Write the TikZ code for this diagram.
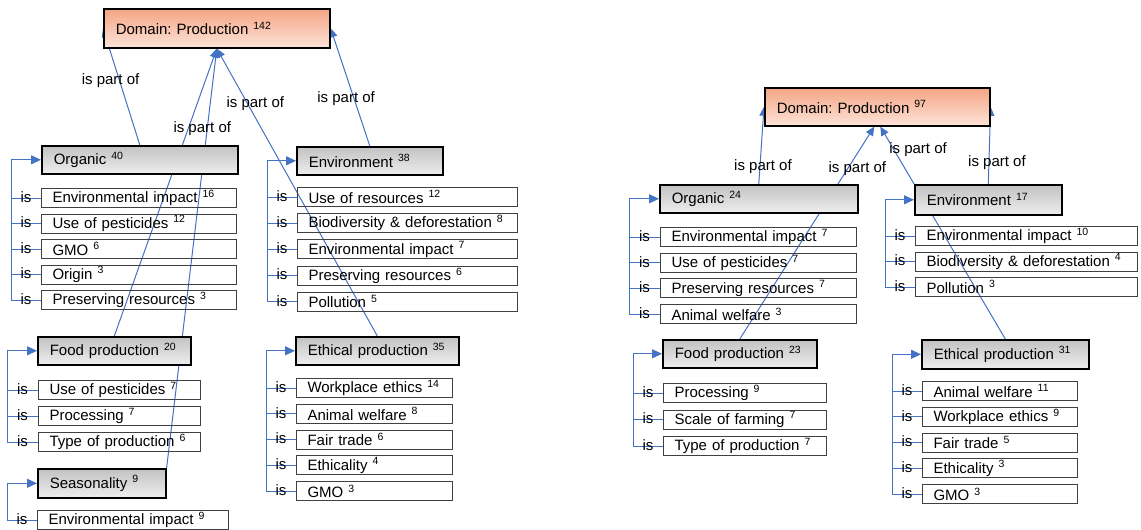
\documentclass[tikz,border=0pt]{standalone}
\usepackage{fontspec}
\setmainfont{Liberation Sans}
\usepackage{xcolor}
\usepackage{tikz}
\usetikzlibrary{arrows.meta, backgrounds}

\definecolor{connblue}{HTML}{4472C4}
\definecolor{leafgray}{HTML}{404040}
\definecolor{domtop}{HTML}{F4A584}
\definecolor{dombot}{HTML}{FDE3D8}
\definecolor{cattop}{HTML}{C2C2C2}
\definecolor{catbot}{HTML}{EEEEEE}
\newcommand{\freq}[1]{\textsuperscript{#1}}
\frenchspacing

\begin{document}
\begin{tikzpicture}[x=1pt, y=-1pt, font=\fontsize{15}{18}\selectfont,
    catbox/.style={draw, line width=1.6pt, top color=cattop, bottom color=catbot,
      anchor=north west, inner xsep=12pt, inner ysep=0pt, minimum height=28pt,
      text width=#1, align=left},
    dombox/.style={catbox=#1, top color=domtop, bottom color=dombot, minimum height=39pt},
    leaf/.style={draw=leafgray, line width=1pt, anchor=north west, inner xsep=11pt,
      inner ysep=0pt, minimum height=19pt, text width=#1, align=left},
    conn/.style={connblue, line width=1pt},
    joinarrow/.style={-{Triangle[length=10pt, width=9pt]}},
    partof/.style={conn, -{Triangle[length=9pt, width=8pt]}},
    istext/.style={inner sep=0pt, text=black, yshift=1pt},
    partlabel/.style={inner sep=0pt, text=black}]
  \useasboundingbox (0,0) rectangle (1141,530);

  % Domain (left)
  \node[dombox=202pt] (dom) at (103,8) {Domain: Production \freq{142}};

  % Organic
  \node[catbox=172pt] (org) at (41,145) {Organic \freq{40}};
  \coordinate (orgb) at (11,0);
  \foreach \t [count=\i] in {Environmental impact \freq{16},Use of pesticides \freq{12},%
      GMO \freq{6},Origin \freq{3},Preserving resources \freq{3}} {
    \node[leaf=173pt] (org\i) at (41,{188+25.5*(\i-1)}) {\t};
    \draw[conn] (orgb |- org\i.west) -- node[istext] {is} (org\i.west);
  }
  \draw[conn, joinarrow] (orgb |- org5.west) -- (orgb |- org.west) -- (org.west);

  % Food production
  \node[catbox=129pt] (food) at (37,336) {Food production \freq{20}};
  \coordinate (foodb) at (7,0);
  \foreach \t [count=\i] in {Use of pesticides \freq{7},Processing \freq{7},%
      Type of production \freq{6}} {
    \node[leaf=140pt] (food\i) at (38,{380+26*(\i-1)}) {\t};
    \draw[conn] (foodb |- food\i.west) -- node[istext] {is} (food\i.west);
  }
  \draw[conn, joinarrow] (foodb |- food3.west) -- (foodb |- food.west) -- (food.west);

  % Seasonality
  \node[catbox=104pt, minimum height=29pt] (seas) at (37,468) {Seasonality \freq{9}};
  \coordinate (seasb) at (7,0);
  \node[leaf=169pt] (seas1) at (37,510) {Environmental impact \freq{9}};
  \draw[conn] (seasb |- seas1.west) -- node[istext] {is} (seas1.west);
  \draw[conn, joinarrow] (seasb |- seas1.west) -- (seasb |- seas.west) -- (seas.west);

  % Environment
  \node[catbox=122pt] (env) at (296,146) {Environment \freq{38}};
  \coordinate (envb) at (267,0);
  \foreach \t [count=\i] in {Use of resources \freq{12},Biodiversity \& deforestation \freq{8},%
      Environmental impact \freq{7},Preserving resources \freq{6},Pollution \freq{5}} {
    \node[leaf=198pt] (env\i) at (297,{187+26.2*(\i-1)}) {\t};
    \draw[conn] (envb |- env\i.west) -- node[istext] {is} (env\i.west);
  }
  \draw[conn, joinarrow] (envb |- env5.west) -- (envb |- env.west) -- (env.west);

  % Ethical production
  \node[catbox=139pt] (eth) at (295,336) {Ethical production \freq{35}};
  \coordinate (ethb) at (266,0);
  \foreach \t [count=\i] in {Workplace ethics \freq{14},Animal welfare \freq{8},%
      Fair trade \freq{6},Ethicality \freq{4},GMO \freq{3}} {
    \node[leaf=134pt] (eth\i) at (296,{378+25.8*(\i-1)}) {\t};
    \draw[conn] (ethb |- eth\i.west) -- node[istext] {is} (eth\i.west);
  }
  \draw[conn, joinarrow] (ethb |- eth5.west) -- (ethb |- eth.west) -- (eth.west);

  % Domain (right)
  \node[dombox=201pt, minimum height=38pt] (rdom) at (764,87) {Domain: Production \freq{97}};

  % Organic (right)
  \node[catbox=174pt] (rorg) at (659,184) {Organic \freq{24}};
  \coordinate (rorgb) at (629,0);
  \foreach \t [count=\i] in {Environmental impact \freq{7},Use of pesticides \freq{7},%
      Preserving resources \freq{7},Animal welfare \freq{3}} {
    \node[leaf=174pt] (rorg\i) at (660,{227+25.7*(\i-1)}) {\t};
    \draw[conn] (rorgb |- rorg\i.west) -- node[istext] {is} (rorg\i.west);
  }
  \draw[conn, joinarrow] (rorgb |- rorg4.west) -- (rorgb |- rorg.west) -- (rorg.west);

  % Food production (right)
  \node[catbox=130pt] (rfood) at (662,339) {Food production \freq{23}};
  \coordinate (rfoodb) at (633,0);
  \foreach \t [count=\i] in {Processing \freq{9},Scale of farming \freq{7},%
      Type of production \freq{7}} {
    \node[leaf=141pt] (rfood\i) at (663,{383+26.5*(\i-1)}) {\t};
    \draw[conn] (rfoodb |- rfood\i.west) -- node[istext] {is} (rfood\i.west);
  }
  \draw[conn, joinarrow] (rfoodb |- rfood3.west) -- (rfoodb |- rfood.west) -- (rfood.west);

  % Environment (right)
  \node[catbox=123pt, minimum height=30pt] (renv) at (914,184) {Environment \freq{17}};
  \coordinate (renvb) at (885,0);
  \foreach \t [count=\i] in {Environmental impact \freq{10},%
      Biodiversity \& deforestation \freq{4},Pollution \freq{3}} {
    \node[leaf=200pt] (renv\i) at (915,{226+25.5*(\i-1)}) {\t};
    \draw[conn] (renvb |- renv\i.west) -- node[istext] {is} (renv\i.west);
  }
  \draw[conn, joinarrow] (renvb |- renv3.west) -- (renvb |- renv.west) -- (renv.west);

  % Ethical production (right)
  \node[catbox=143pt, minimum height=29pt] (reth) at (921,339) {Ethical production \freq{31}};
  \coordinate (rethb) at (892,0);
  \foreach \t [count=\i] in {Animal welfare \freq{11},Workplace ethics \freq{9},%
      Fair trade \freq{5},Ethicality \freq{3},GMO \freq{3}} {
    \node[leaf=133pt] (reth\i) at (922,{381+25.8*(\i-1)}) {\t};
    \draw[conn] (rethb |- reth\i.west) -- node[istext] {is} (reth\i.west);
  }
  \draw[conn, joinarrow] (rethb |- reth5.west) -- (rethb |- reth.west) -- (reth.west);

  % is part of
  \begin{scope}[on background layer]
    \draw[partof] (org.north) -- node[partlabel, pos=0.55, xshift=-9pt] {is part of} (dom.west);
    \draw[partof] (food.north) -- (dom.south);
    \draw[partof] (seas.north east) -- node[partlabel, pos=0.81, xshift=-5pt] {is part of} (dom.south);
    \draw[partof] (eth.north) -- node[partlabel, pos=0.81, xshift=8pt] {is part of} (dom.south);
    \draw[partof] (env.north) -- node[partlabel, pos=0.4, xshift=-8pt] {is part of} (dom.east);

    \draw[partof] (rorg.north) -- node[partlabel, pos=0.23, xshift=3pt] {is part of} (rdom.west);
    \draw[partof] (rfood.north) -- node[partlabel, pos=0.8, xshift=10pt] {is part of} ([xshift=-3pt]rdom.south);
    \draw[partof] (reth.north) -- node[partlabel, pos=0.89, xshift=24pt] {is part of} ([xshift=3pt]rdom.south);
    \draw[partof] (renv.north) -- node[partlabel, pos=0.28, xshift=8pt] {is part of} (rdom.east);
  \end{scope}
\end{tikzpicture}
\end{document}
